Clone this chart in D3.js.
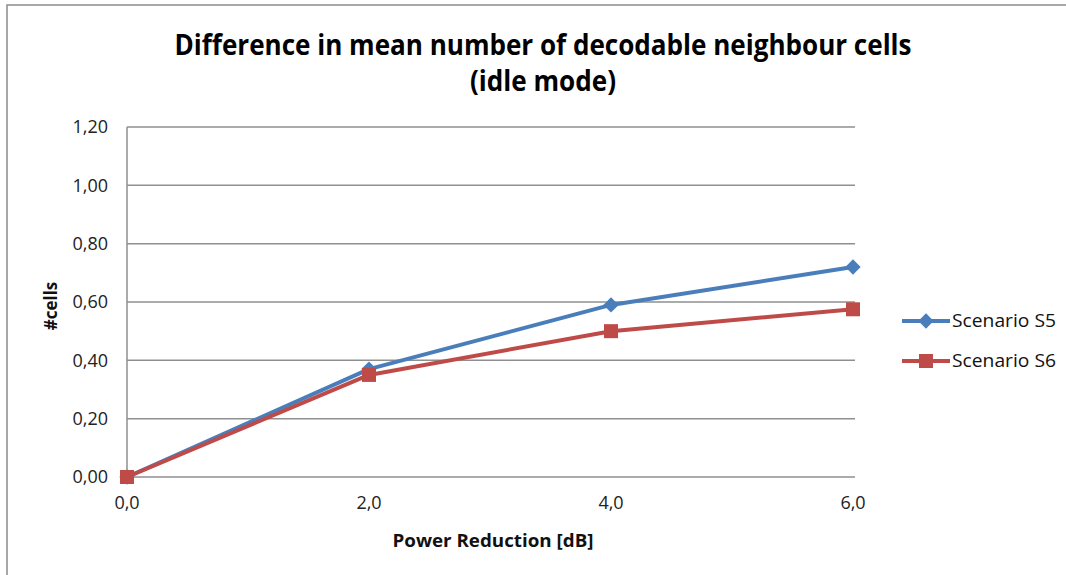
<!DOCTYPE html>
<html><head><meta charset="utf-8">
<script src="https://cdn.jsdelivr.net/npm/d3@7"></script>
<style>body{margin:0;background:#fff;}svg{display:block;font-family:"Open Sans","Liberation Sans",sans-serif;}</style>
</head><body><svg id="c" width="1066" height="575"></svg>
<script>
const xValues = [0, 2, 4, 6];
const xTickLabels = ["0,0", "2,0", "4,0", "6,0"];
const yTicks = [0, 0.2, 0.4, 0.6, 0.8, 1.0, 1.2];
const yTickLabels = ["0,00", "0,20", "0,40", "0,60", "0,80", "1,00", "1,20"];
const seriesNames = ["Scenario S5", "Scenario S6"];
const s5 = [0.00, 0.37, 0.59, 0.72];
const s6 = [0.00, 0.35, 0.50, 0.575];
const titleLines = ["Difference in mean number of decodable neighbour cells", "(idle mode)"];
const xTitle = "Power Reduction [dB]";
const yTitle = "#cells";

const series = [
  {name: seriesNames[0], values: s5, color: "#4A7EBB", marker: "diamond"},
  {name: seriesNames[1], values: s6, color: "#BE4B48", marker: "square"}
];

const svg = d3.select("#c");
// frame
svg.append("path").attr("d", "M7,575 L7,5 L1066,5").attr("fill", "none").attr("stroke", "#8c8c8c").attr("stroke-width", 1.5);

const x = d3.scaleLinear().domain([0, 6]).range([127, 853]);
const y = d3.scaleLinear().domain([0, 1.2]).range([477, 127]);

// title
const tw = [737, 146];
titleLines.forEach((t, i) => {
  svg.append("text").attr("x", 543).attr("y", 55 + i * 36).attr("text-anchor", "middle")
    .attr("font-size", 28).attr("font-weight", "bold").attr("fill", "#000")
    .attr("textLength", tw[i]).attr("lengthAdjust", "spacingAndGlyphs").text(t);
});

// gridlines
const g = svg.append("g");
g.selectAll("line.grid").data(yTicks).join("line")
  .attr("x1", 127).attr("x2", 855).attr("y1", d => y(d)).attr("y2", d => y(d))
  .attr("stroke", "#8f8f8f").attr("stroke-width", 1.5);
// y axis line
g.append("line").attr("x1", 127).attr("x2", 127).attr("y1", y(1.2)).attr("y2", y(0) + 5)
  .attr("stroke", "#8f8f8f").attr("stroke-width", 1.5);

// y tick labels
g.selectAll("text.yt").data(yTicks).join("text")
  .attr("x", 108).attr("y", d => y(d)).attr("dy", "0.35em").attr("text-anchor", "end")
  .attr("font-size", 18).attr("fill", "#222").text((d, i) => yTickLabels[i]);
// x tick labels
g.selectAll("text.xt").data(xValues).join("text")
  .attr("x", d => x(d)).attr("y", 509).attr("text-anchor", "middle")
  .attr("font-size", 18).attr("fill", "#222").text((d, i) => xTickLabels[i]);

// axis titles
svg.append("text").attr("x", 493).attr("y", 547).attr("text-anchor", "middle")
  .attr("font-size", 18).attr("font-weight", "bold").attr("fill", "#111")
  .attr("textLength", 201).attr("lengthAdjust", "spacingAndGlyphs").text(xTitle);
svg.append("text").attr("transform", "translate(57,306) rotate(-90)").attr("text-anchor", "middle")
  .attr("font-size", 17).attr("font-weight", "bold").attr("fill", "#111").text(yTitle);

const line = d3.line().x((d, i) => x(xValues[i])).y(d => y(d));
function drawMarker(sel, type, cx, cy, color) {
  if (type === "diamond") {
    sel.append("path").attr("d", d3.symbol().type(d3.symbolDiamond2).size(150)())
      .attr("transform", `translate(${cx},${cy})`).attr("fill", color);
  } else {
    sel.append("rect").attr("x", cx - 7).attr("y", cy - 7).attr("width", 14).attr("height", 14).attr("fill", color);
  }
}
series.forEach(s => {
  svg.append("path").datum(s.values).attr("d", line).attr("fill", "none")
    .attr("stroke", s.color).attr("stroke-width", 4).attr("stroke-linejoin", "round");
  s.values.forEach((v, i) => drawMarker(svg, s.marker, x(xValues[i]), y(v), s.color));
});

// legend
series.forEach((s, i) => {
  const ly = 321 + i * 40;
  svg.append("line").attr("x1", 902).attr("x2", 950).attr("y1", ly).attr("y2", ly)
    .attr("stroke", s.color).attr("stroke-width", 4);
  drawMarker(svg, s.marker, 926, ly, s.color);
  svg.append("text").attr("x", 952).attr("y", ly).attr("dy", "0.35em")
    .attr("font-size", 18).attr("fill", "#111")
    .attr("textLength", 104).attr("lengthAdjust", "spacingAndGlyphs").text(s.name);
});
</script></body></html>
